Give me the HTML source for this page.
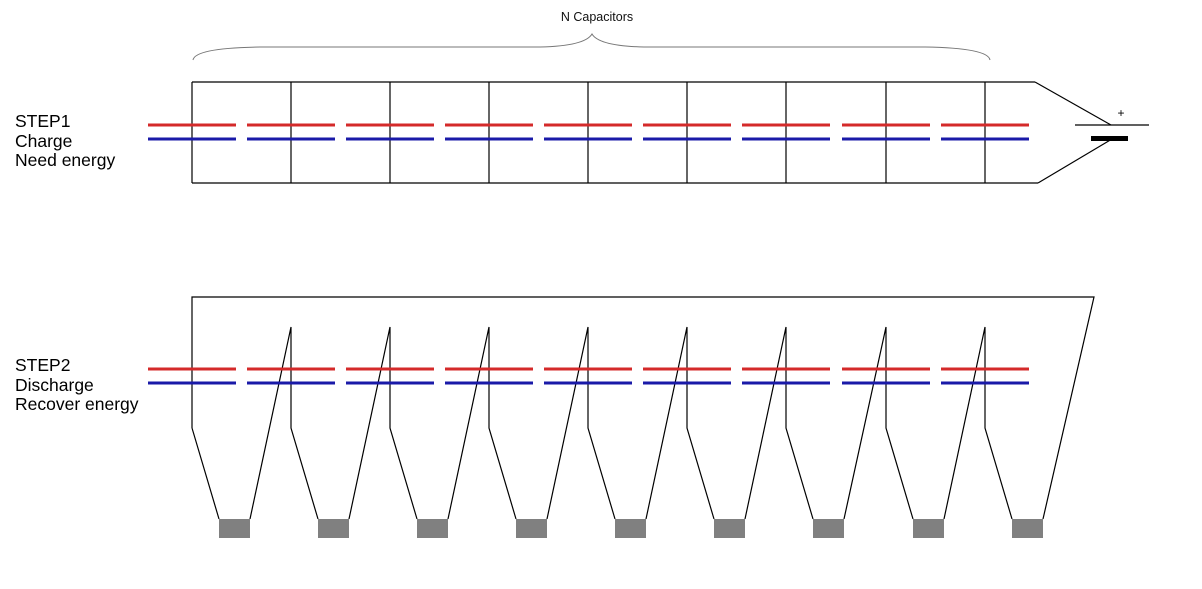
<!DOCTYPE html>
<html><head><meta charset="utf-8"><style>
html,body{margin:0;padding:0;background:#fff;width:1202px;height:589px;overflow:hidden}
text{font-family:"Liberation Sans",Arial,sans-serif}
</style></head><body>
<svg width="1202" height="589" viewBox="0 0 1202 589" xmlns="http://www.w3.org/2000/svg">
<text x="597" y="21" font-size="12.5" text-anchor="middle" fill="#111">N Capacitors</text>
<path d="M193,60 Q195,48 260,47 L540,47 Q585,46 592,34 Q599,46 644,47 L925,47 Q988,48 990,60" fill="none" stroke="#777" stroke-width="1"/>
<g font-size="17.5" fill="#000">
<text x="15" y="127">STEP1</text><text x="15" y="147">Charge</text><text x="15" y="166">Need energy</text>
<text x="15" y="371">STEP2</text><text x="15" y="391">Discharge</text><text x="15" y="410">Recover energy</text>
</g>
<g stroke="#000" stroke-width="1.2" fill="none">
<line x1="192" y1="82" x2="1035" y2="82"/>
<line x1="192" y1="183" x2="1038" y2="183"/>
<path d="M192,82V183M291,82V183M390,82V183M489,82V183M588,82V183M687,82V183M786,82V183M886,82V183M985,82V183"/>
<line x1="1035" y1="82" x2="1111" y2="125"/>
<line x1="1112" y1="139" x2="1038" y2="183"/>
<line x1="1075" y1="125" x2="1149" y2="125"/>
<path d="M192,428V297H1094L1043,519"/>
<path d="M192,428L219,519M250,519L291,327V428L318,519M349,519L390,327V428L417,519M448,519L489,327V428L516,519M547,519L588,327V428L615,519M646,519L687,327V428L714,519M745,519L786,327V428L813,519M844,519L886,327V428L913,519M944,519L985,327V428L1012,519"/>
</g>
<rect x="1091" y="136" width="37" height="5" fill="#000"/>
<text x="1121" y="117" font-size="12" text-anchor="middle">+</text>
<g fill="#808080">
<rect x="219" y="519" width="31" height="19"/><rect x="318" y="519" width="31" height="19"/><rect x="417" y="519" width="31" height="19"/>
<rect x="516" y="519" width="31" height="19"/><rect x="615" y="519" width="31" height="19"/><rect x="714" y="519" width="31" height="19"/>
<rect x="813" y="519" width="31" height="19"/><rect x="913" y="519" width="31" height="19"/><rect x="1012" y="519" width="31" height="19"/>
</g>
<g stroke-width="3">
<g stroke="#d42a2a">
<path d="M148,125H236M247,125H335M346,125H434M445,125H533M544,125H632M643,125H731M742,125H830M842,125H930M941,125H1029"/>
<path d="M148,369H236M247,369H335M346,369H434M445,369H533M544,369H632M643,369H731M742,369H830M842,369H930M941,369H1029"/>
</g>
<g stroke="#1a1aa8">
<path d="M148,139H236M247,139H335M346,139H434M445,139H533M544,139H632M643,139H731M742,139H830M842,139H930M941,139H1029"/>
<path d="M148,383H236M247,383H335M346,383H434M445,383H533M544,383H632M643,383H731M742,383H830M842,383H930M941,383H1029"/>
</g>
</g>
</svg>
</body></html>
